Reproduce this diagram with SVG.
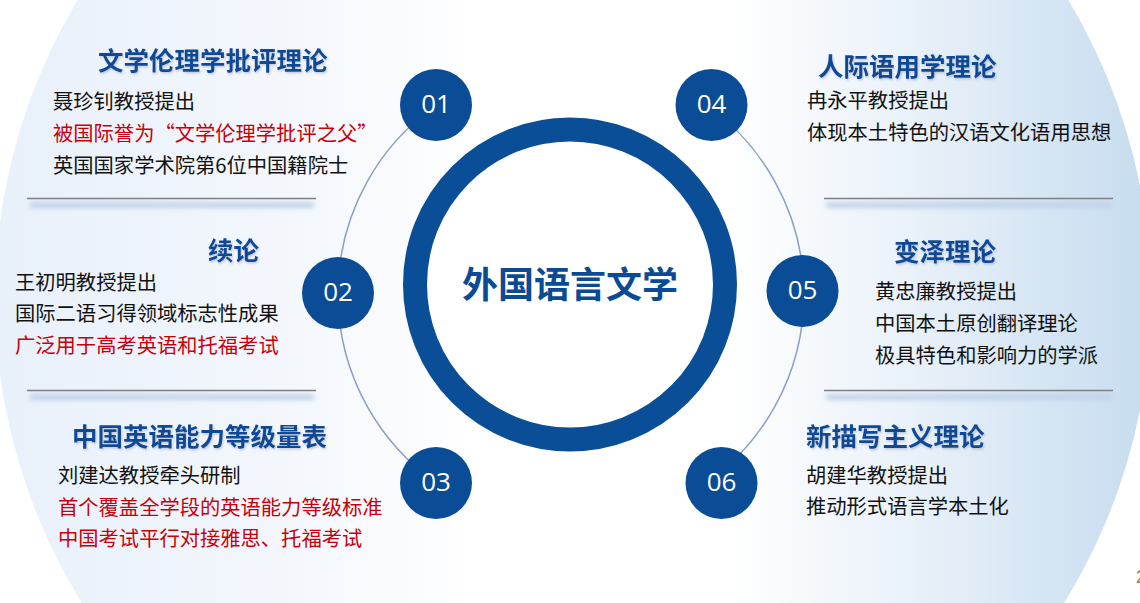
<svg xmlns="http://www.w3.org/2000/svg" width="1140" height="603" viewBox="0 0 1140 603">
<defs>
<linearGradient id="bg" gradientUnits="userSpaceOnUse" x1="0" y1="0" x2="1140" y2="0">
<stop offset="0" stop-color="#E8F0FA"/>
<stop offset="0.28" stop-color="#F5F8FD"/>
<stop offset="0.42" stop-color="#FFFFFF"/>
<stop offset="0.64" stop-color="#FFFFFF"/>
<stop offset="0.8" stop-color="#E9F1F9"/>
<stop offset="1" stop-color="#C8DDF0"/>
</linearGradient>
<filter id="blur" x="-10%" y="-200%" width="120%" height="500%">
<feGaussianBlur stdDeviation="2.5"/>
</filter>
<filter id="tsh" x="-5%" y="-20%" width="110%" height="150%">
<feDropShadow dx="1" dy="1.5" stdDeviation="1" flood-color="#7F90B0" flood-opacity="0.45"/>
</filter>
</defs>
<style>
.title{font-family:"Noto Sans CJK SC","Noto Sans",sans-serif;font-weight:700;font-size:25.5px;fill:#0E4A94}
.body{font-family:"Noto Sans CJK SC","Noto Sans",sans-serif;font-size:20.3px;fill:#111111}
.red{fill:#C8000A}
.num{font-family:"Open Sans","Noto Sans",sans-serif;font-size:26px;fill:#FFFFFF;text-anchor:middle}
.dot{fill:#0A4C96}
.sep{stroke:#7F7F7F;stroke-width:1.5}
.shadow{fill:#BFD3EA;filter:url(#blur)}
.arc{fill:none;stroke:#8A9EC4;stroke-width:1.5}
</style>
<rect x="0" y="0" width="1140" height="603" fill="#FFFFFF"/>
<circle cx="573" cy="298" r="578" fill="url(#bg)"/>

<g id="separators">
<rect class="shadow" x="30" y="202" width="284" height="6"/>
<line class="sep" x1="27" y1="198.5" x2="316" y2="198.5"/>
<rect class="shadow" x="30" y="394" width="284" height="6"/>
<line class="sep" x1="27" y1="390.5" x2="316" y2="390.5"/>
<rect class="shadow" x="826" y="202" width="286" height="6"/>
<line class="sep" x1="824" y1="198.5" x2="1113" y2="198.5"/>
<rect class="shadow" x="826" y="394" width="286" height="6"/>
<line class="sep" x1="824" y1="390.5" x2="1113" y2="390.5"/>
</g>

<g id="connectors">
<path class="arc" d="M 436.2 105 A 231 231 0 0 0 436.2 483"/>
<path class="arc" d="M 706.5 105 A 232 232 0 0 1 706.5 483"/>
</g>

<g id="center">
<circle cx="570" cy="284.5" r="155" fill="#FFFFFF" stroke="#0A4E98" stroke-width="24"/>
<text x="570" y="298" text-anchor="middle" font-family="Noto Sans CJK SC, Noto Sans, sans-serif" font-weight="700" font-size="36" fill="#0B4A94">外国语言文学</text>
</g>

<g id="node01">
<circle class="dot" cx="436" cy="105" r="36"/>
<text class="num" x="436" y="112.5">01</text>
<text class="title" x="98" y="69.7" filter="url(#tsh)">文学伦理学批评理论</text>
<text class="body" x="53" y="108.7">聂珍钊教授提出</text>
<text class="body red" x="53" y="140.7">被国际誉为“文学伦理学批评之父”</text>
<text class="body" x="53" y="172.7">英国国家学术院第6位中国籍院士</text>
</g>

<g id="node02">
<circle class="dot" cx="338" cy="293" r="36"/>
<text class="num" x="338" y="300.5">02</text>
<text class="title" x="208" y="259.7" filter="url(#tsh)">续论</text>
<text class="body" x="15" y="289.5">王初明教授提出</text>
<text class="body" x="15" y="321.2">国际二语习得领域标志性成果</text>
<text class="body red" x="15" y="352.7">广泛用于高考英语和托福考试</text>
</g>

<g id="node03">
<circle class="dot" cx="436" cy="483" r="36"/>
<text class="num" x="436" y="490.5">03</text>
<text class="title" x="72" y="445.7" filter="url(#tsh)">中国英语能力等级量表</text>
<text class="body" x="58" y="483.2">刘建达教授牵头研制</text>
<text class="body red" x="58" y="514.7">首个覆盖全学段的英语能力等级标准</text>
<text class="body red" x="58" y="546.2">中国考试平行对接雅思、托福考试</text>
</g>

<g id="node04">
<circle class="dot" cx="711.5" cy="105" r="36"/>
<text class="num" x="711.5" y="112.5">04</text>
<text class="title" x="818" y="75.7" filter="url(#tsh)">人际语用学理论</text>
<text class="body" x="807" y="107.7">冉永平教授提出</text>
<text class="body" x="807" y="140.2">体现本土特色的汉语文化语用思想</text>
</g>

<g id="node05">
<circle class="dot" cx="802.5" cy="291" r="36"/>
<text class="num" x="802.5" y="298.5">05</text>
<text class="title" x="894" y="260.7" filter="url(#tsh)">变泽理论</text>
<text class="body" x="875" y="299.2">黄忠廉教授提出</text>
<text class="body" x="875" y="331.2">中国本土原创翻译理论</text>
<text class="body" x="875" y="363.2">极具特色和影响力的学派</text>
</g>

<g id="node06">
<circle class="dot" cx="721.5" cy="483" r="36"/>
<text class="num" x="721.5" y="490.5">06</text>
<text class="title" x="806" y="445.7" filter="url(#tsh)">新描写主义理论</text>
<text class="body" x="806" y="482.7">胡建华教授提出</text>
<text class="body" x="806" y="514.2">推动形式语言学本土化</text>
</g>

<text x="1136" y="583" font-family="Liberation Sans, sans-serif" font-size="18" fill="#9B7B55">2</text>
</svg>
